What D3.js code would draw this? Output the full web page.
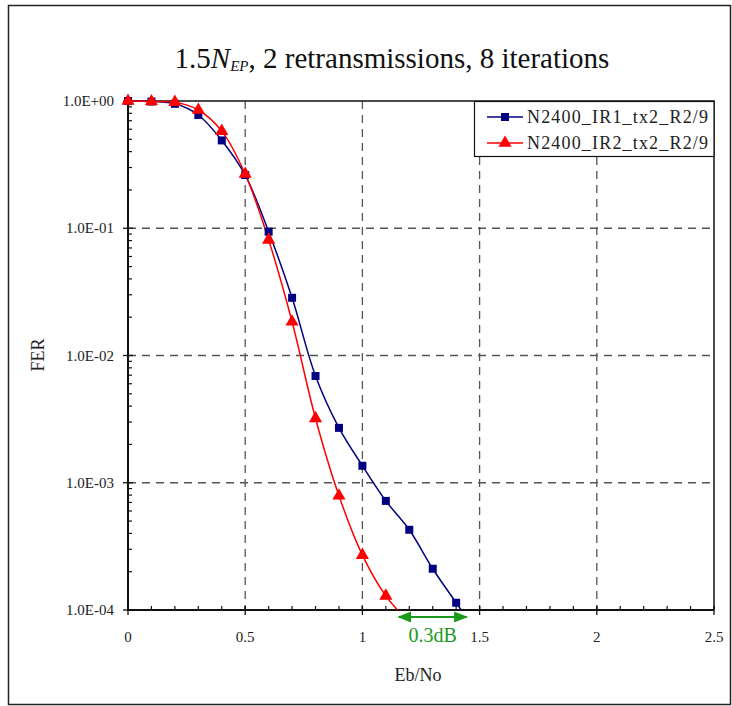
<!DOCTYPE html>
<html><head><meta charset="utf-8">
<script src="https://cdn.jsdelivr.net/npm/d3@7/dist/d3.min.js"></script>
<style>body{margin:0;background:#fff}svg{display:block}text{font-family:"Liberation Serif","DejaVu Serif",serif}</style>
</head><body><svg id="c" width="732" height="706"></svg>
<script>
const ebno1 = [0,0.1,0.2,0.3,0.4,0.5,0.6,0.7,0.8,0.9,1.0,1.1,1.2,1.3,1.4,1.5];
const fer1  = [1.0,0.99,0.95,0.776,0.49,0.262,0.094,0.0284,0.0069,0.0027,0.00136,0.00072,0.000427,0.000211,0.000114,0.000062];
const ebno2 = [0,0.1,0.2,0.3,0.4,0.5,0.6,0.7,0.8,0.9,1.0,1.1,1.2];
const fer2  = [1.0,0.99,0.98,0.85,0.58,0.267,0.081,0.0184,0.0032,0.00079,0.00027,0.000129,0.00008];
const seriesNames = ["N2400_IR1_tx2_R2/9","N2400_IR2_tx2_R2/9"];
const yTickVals = [1,1e-1,1e-2,1e-3,1e-4];
const yTickLabels = ["1.0E+00","1.0E-01","1.0E-02","1.0E-03","1.0E-04"];
const xTickVals = [0,0.5,1,1.5,2,2.5];
const xTickLabels = ["0","0.5","1","1.5","2","2.5"];
const gapEnds = [1.155,1.445];
const gapLabel = "0.3dB";

const svg = d3.select("#c");
const L=128,R=714,T=101,B=610;
const x = d3.scaleLinear([0,2.5],[L,R]);
const y = d3.scaleLog([1e-4,1],[B,T]);

// outer frame
svg.append("rect").attr("x",8.5).attr("y",5.5).attr("width",722).attr("height",699)
  .attr("fill","none").attr("stroke","#222").attr("stroke-width",1.5);

// title
const tt = svg.append("text").attr("x",392).attr("y",68).attr("text-anchor","middle")
  .attr("font-size",29).attr("fill","#111");
tt.append("tspan").text("1.5");
tt.append("tspan").attr("font-style","italic").text("N");
tt.append("tspan").attr("font-style","italic").attr("font-size",15).attr("dy",3).text("EP");
tt.append("tspan").attr("dy",-3).text(", 2 retransmissions, 8 iterations");

// grid
const g = svg.append("g");
g.selectAll(".gh").data(yTickVals.slice(1,4)).join("line")
  .attr("x1",L).attr("x2",R).attr("y1",d=>y(d)).attr("y2",d=>y(d))
  .attr("stroke","#555").attr("stroke-width",1.3).attr("stroke-dasharray","8,6");
g.selectAll(".gv").data(xTickVals.slice(1,5)).join("line")
  .attr("x1",d=>x(d)).attr("x2",d=>x(d)).attr("y1",T).attr("y2",B)
  .attr("stroke","#555").attr("stroke-width",1.3).attr("stroke-dasharray","8,6");
// plot border top/right
svg.append("path").attr("d",`M${L},${T}H${R}V${B}`).attr("fill","none").attr("stroke","#111").attr("stroke-width",1.5);

// y minor ticks
const minors=[];
for(let k=-4;k<0;k++) for(let m=2;m<=9;m++) minors.push(m*Math.pow(10,k));
svg.selectAll(".ym").data(minors).join("line")
  .attr("x1",L).attr("x2",L+4).attr("y1",d=>y(d)).attr("y2",d=>y(d)).attr("stroke","#111").attr("stroke-width",1.2);
svg.selectAll(".yM").data(yTickVals).join("line")
  .attr("x1",L-5).attr("x2",L+5).attr("y1",d=>y(d)).attr("y2",d=>y(d)).attr("stroke","#111").attr("stroke-width",1.3);
svg.selectAll(".yl").data(yTickVals).join("text")
  .attr("x",L-14).attr("y",d=>y(d)+5).attr("text-anchor","end").attr("font-size",15).attr("fill","#222")
  .text((d,i)=>yTickLabels[i]);

// x ticks
const xmin = d3.range(0,26).map(i=>i/10);
svg.selectAll(".xm").data(xmin).join("line")
  .attr("x1",d=>x(d)).attr("x2",d=>x(d)).attr("y1",B-4).attr("y2",B).attr("stroke","#111").attr("stroke-width",1.2);
svg.selectAll(".xM").data(xTickVals).join("line")
  .attr("x1",d=>x(d)).attr("x2",d=>x(d)).attr("y1",B-4).attr("y2",B+5).attr("stroke","#111").attr("stroke-width",1.3);
svg.selectAll(".xl").data(xTickVals).join("text")
  .attr("x",d=>x(d)).attr("y",B+32).attr("text-anchor","middle").attr("font-size",15).attr("fill","#222")
  .text((d,i)=>xTickLabels[i]);

// axes lines
svg.append("path").attr("d",`M${L},${T}V${B}H${R}`).attr("fill","none").attr("stroke","#111").attr("stroke-width",2);

// axis titles
svg.append("text").attr("x",418).attr("y",681).attr("text-anchor","middle").attr("font-size",18).attr("fill","#222").text("Eb/No");
svg.append("text").attr("transform","translate(44,355) rotate(-90)").attr("text-anchor","middle").attr("font-size",18).attr("fill","#222").text("FER");

// clip
svg.append("clipPath").attr("id","clp").append("rect").attr("x",L-12).attr("y",T-12).attr("width",R-L+24).attr("height",B-T+12);
const plot = svg.append("g").attr("clip-path","url(#clp)");
const line = d3.line().x(d=>x(d[0])).y(d=>y(d[1])).curve(d3.curveCatmullRom.alpha(0.5));
const d1 = ebno1.map((v,i)=>[v,fer1[i]]);
const d2 = ebno2.map((v,i)=>[v,fer2[i]]);
const blue="#000080", red="#ff0000";
plot.append("path").attr("d",line(d1)).attr("fill","none").attr("stroke",blue).attr("stroke-width",1.5);
plot.append("path").attr("d",line(d2)).attr("fill","none").attr("stroke",red).attr("stroke-width",1.5);
const sq = d3.symbol(d3.symbolSquare,64), tri = d3.symbol(d3.symbolTriangle,75);
plot.selectAll(".m1").data(d1.filter(d=>d[1]>=1e-4)).join("path")
  .attr("d",sq).attr("transform",d=>`translate(${x(d[0])},${y(d[1])})`).attr("fill",blue);
plot.selectAll(".m2").data(d2.filter(d=>d[1]>=1e-4)).join("path")
  .attr("d",tri).attr("transform",d=>`translate(${x(d[0])},${y(d[1])})`).attr("fill",red);

// gap arrow
const green="#1a9a1a";
const defs = svg.append("defs");
defs.append("marker").attr("id","ah").attr("viewBox","0 0 10 10").attr("refX",9).attr("refY",5)
  .attr("markerWidth",7).attr("markerHeight",7).attr("orient","auto-start-reverse")
  .append("path").attr("d","M0,1L10,5L0,9z").attr("fill",green);
svg.append("line").attr("x1",x(gapEnds[0])).attr("x2",x(gapEnds[1])).attr("y1",B+7).attr("y2",B+7)
  .attr("stroke",green).attr("stroke-width",2).attr("marker-start","url(#ah)").attr("marker-end","url(#ah)");
svg.append("text").attr("x",(x(gapEnds[0])+x(gapEnds[1]))/2).attr("y",B+32).attr("text-anchor","middle")
  .attr("font-size",20).attr("fill",green).text(gapLabel);

// legend
const lg = svg.append("g");
lg.append("rect").attr("x",474.5).attr("y",T+0.5).attr("width",R-474.5).attr("height",55).attr("fill","#fff").attr("stroke","#111").attr("stroke-width",1.2);
const ly=[117,143], cols=[blue,red], syms=[sq,tri];
seriesNames.forEach((n,i)=>{
  lg.append("line").attr("x1",487).attr("x2",523).attr("y1",ly[i]).attr("y2",ly[i]).attr("stroke",cols[i]).attr("stroke-width",1.5);
  lg.append("path").attr("d",syms[i]).attr("transform",`translate(505,${ly[i]})`).attr("fill",cols[i]);
  lg.append("text").attr("x",527).attr("y",ly[i]+6).attr("font-size",18).attr("fill","#222")
    .attr("textLength",181).attr("lengthAdjust","spacing").text(n);
});
</script></body></html>
